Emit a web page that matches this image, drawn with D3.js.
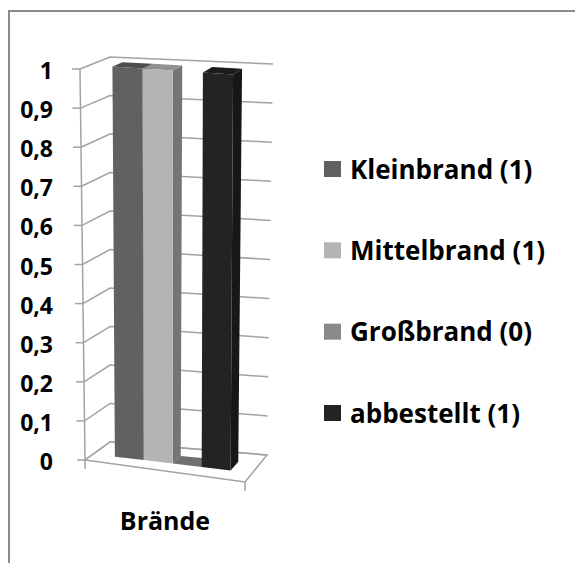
<!DOCTYPE html>
<html><head><meta charset="utf-8">
<script src="https://cdn.jsdelivr.net/npm/d3@7"></script>
<style>html,body{margin:0;padding:0;background:#fff;}svg{display:block;}</style>
</head><body>
<script>
const categories = ["Brände"];
const seriesNames = ["Kleinbrand (1)", "Mittelbrand (1)", "Großbrand (0)", "abbestellt (1)"];
const seriesValues = [1, 1, 0, 1];
const seriesColors = ["#616161", "#b4b4b4", "#8a8a8a", "#232323"];
const yTicks = [0, 0.1, 0.2, 0.3, 0.4, 0.5, 0.6, 0.7, 0.8, 0.9, 1];

const W = 575, H = 563;
const svg = d3.select("body").append("svg").attr("width", W).attr("height", H);
const font = "'Open Sans', 'Liberation Sans', sans-serif";

// outer border
svg.append("rect").attr("x", 9).attr("y", 11).attr("width", 700).attr("height", 700)
  .attr("fill", "#fff").attr("stroke", "#8c8c8c").attr("stroke-width", 2);

// 3D box corners (projected)
const C = {
  FLB: [85, 460], FLT: [80, 69], FRB: [245, 482], FRT: [247, 82],
  BLB: [110, 442], BLT: [110, 57], BRB: [267, 455], BRT: [273, 64]
};
const lerp = (a, b, t) => [a[0] + (b[0] - a[0]) * t, a[1] + (b[1] - a[1]) * t];
const yScale = d3.scaleLinear().domain([0, 1]).range([0, 1]);
function P(u, val, w) {
  const v = yScale(val);
  const bot = lerp(lerp(C.FLB, C.FRB, u), lerp(C.BLB, C.BRB, u), w);
  const top = lerp(lerp(C.FLT, C.FRT, u), lerp(C.BLT, C.BRT, u), w);
  return lerp(bot, top, v);
}
const line = d3.line();
const gridColor = "#a3a3a3";
const g = svg.append("g");

// walls gridlines
yTicks.forEach(t => {
  g.append("path").attr("d", line([P(0, t, 0), P(0, t, 1), P(1, t, 1)]))
    .attr("fill", "none").attr("stroke", gridColor).attr("stroke-width", 1.5);
});
// floor
g.append("path").attr("d", line([P(0, 0, 0), P(1, 0, 0), P(1, 0, 1), P(0, 0, 1)]) + "Z")
  .attr("fill", "none").attr("stroke", gridColor).attr("stroke-width", 1.5);

// bars
const xBand = d3.scaleBand().domain(seriesNames).range([0.136, 0.864]).paddingInner(0);
const w0 = 0.33, w1 = 0.67;
const shade = (c, k) => d3.rgb(c).darker(k).formatHex();
seriesNames.forEach((s, i) => {
  const u0 = xBand(s), u1 = u0 + xBand.bandwidth();
  const v = seriesValues[i];
  const col = seriesColors[i];
  const side = [P(u1, 0, w0), P(u1, 0, w1), P(u1, v, w1), P(u1, v, w0)];
  const top = [P(u0, v, w0), P(u1, v, w0), P(u1, v, w1), P(u0, v, w1)];
  const front = [P(u0, 0, w0), P(u1, 0, w0), P(u1, v, w0), P(u0, v, w0)];
  g.append("path").attr("d", line(side) + "Z").attr("fill", shade(col, 1.2));
  g.append("path").attr("d", line(top) + "Z").attr("fill", shade(col, 0.6));
  if (v > 0) g.append("path").attr("d", line(front) + "Z").attr("fill", col);
});

// value axis line + ticks
const a0 = P(0, 0, 0), a1 = P(0, 1, 0);
g.append("path").attr("d", line([[a0[0] + (a0[0]-a1[0]) * 0.023, a0[1] + 9], a1]))
  .attr("fill", "none").attr("stroke", gridColor).attr("stroke-width", 1.5);
const fmt = d3.formatLocale({decimal: ",", thousands: ".", grouping: [3], currency: ["", "€"]}).format("~g");
yTicks.forEach(t => {
  const p = P(0, t, 0);
  g.append("line").attr("x1", p[0] - 8).attr("x2", p[0]).attr("y1", p[1]).attr("y2", p[1])
    .attr("stroke", gridColor).attr("stroke-width", 1.5);
  g.append("text").attr("x", 53).attr("y", p[1] + 10)
    .attr("text-anchor", "end").attr("font-family", font).attr("font-weight", "bold")
    .attr("font-size", 23).attr("fill", "#000").text(fmt(t));
});
// category tick at front right
const cr = P(1, 0, 0);
g.append("line").attr("x1", cr[0]).attr("x2", cr[0]).attr("y1", cr[1]).attr("y2", cr[1] + 9)
  .attr("stroke", gridColor).attr("stroke-width", 1.5);
// category label
const cm = P(0.5, 0, 0);
g.append("text").attr("x", cm[0]).attr("y", 530).attr("text-anchor", "middle")
  .attr("font-family", font).attr("font-weight", "bold").attr("font-size", 25)
  .attr("fill", "#000").text(categories[0]);

// legend
const legY = d3.scalePoint().domain(seriesNames).range([169, 413]);
seriesNames.forEach((s, i) => {
  const y = legY(s);
  svg.append("rect").attr("x", 324).attr("y", y - 8).attr("width", 17).attr("height", 16)
    .attr("fill", seriesColors[i]);
  svg.append("text").attr("x", 350).attr("y", y + 9.5).attr("font-family", font)
    .attr("font-weight", "bold").attr("font-size", 26).attr("fill", "#000").text(s);
});
</script>
</body></html>
